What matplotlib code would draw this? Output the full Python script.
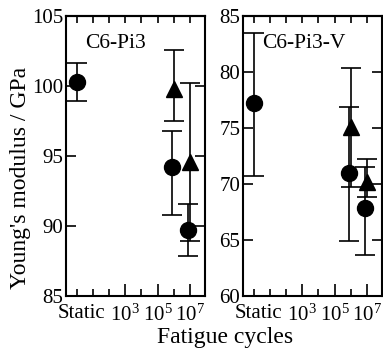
import numpy as np
import matplotlib
matplotlib.use('Agg')
import matplotlib.pyplot as plt
import matplotlib.transforms as mtransforms

plt.rcParams['font.family'] = 'Liberation Serif'
plt.rcParams['mathtext.fontset'] = 'custom'
plt.rcParams['mathtext.rm'] = 'Liberation Serif'
plt.rcParams['mathtext.it'] = 'Liberation Serif:italic'

# Datos
circ_x = [1, 8e5, 7.5e6]
tri_x = [1e6, 1e7]

# C6-Pi3
a_circ_y = [100.3, 94.2, 89.7]
a_circ_lo = [98.95, 90.8, 87.86]
a_circ_hi = [101.67, 96.8, 91.57]
a_tri_y = [99.8, 94.6]
a_tri_lo = [97.5, 88.95]
a_tri_hi = [102.57, 100.19]

# C6-Pi3-V
b_circ_y = [77.2, 71.0, 67.9]
b_circ_lo = [70.7, 64.95, 63.66]
b_circ_hi = [83.5, 76.9, 71.49]
b_tri_y = [75.1, 70.2]
b_tri_lo = [69.7, 68.87]
b_tri_hi = [80.4, 72.2]

panels = [
    ('C6-Pi3', (85, 105), [85, 90, 95, 100, 105],
     a_circ_y, a_circ_lo, a_circ_hi, a_tri_y, a_tri_lo, a_tri_hi),
    ('C6-Pi3-V', (60, 85), [60, 65, 70, 75, 80, 85],
     b_circ_y, b_circ_lo, b_circ_hi, b_tri_y, b_tri_lo, b_tri_hi),
]

fig = plt.figure(figsize=(3.83, 3.52), dpi=100)
lefts = [66 / 383, 243 / 383]
decades = [10.0 ** k for k in range(0, 8)]

for left, (name, ylim, yticks, cy, clo, chi, ty, tlo, thi) in zip(lefts, panels):
    ax = fig.add_axes([left, 56 / 352, 139 / 383, 280 / 352])
    cy = np.array(cy)
    ty = np.array(ty)
    ax.errorbar(tri_x, ty, yerr=[ty - np.array(tlo), np.array(thi) - ty],
                fmt='^', color='black', ms=11.5, capsize=7, elinewidth=1.2,
                capthick=1.2)
    ax.errorbar(circ_x, cy, yerr=[cy - np.array(clo), np.array(chi) - cy],
                fmt='o', color='black', ms=11.5, capsize=7, elinewidth=1.2,
                capthick=1.2)
    ax.set_xscale('log')
    ax.set_xlim(10 ** -0.66, 10 ** 7.93)
    ax.set_ylim(*ylim)
    ax.set_yticks(yticks)
    ax.set_xticks([1, 1e3, 1e5, 1e7], ['Static', '$10^3$', '$10^5$', '$10^7$'])
    ax.set_xticks([d for d in decades if d not in (1, 1e3, 1e5, 1e7)], minor=True)
    ax.xaxis.set_minor_formatter(plt.NullFormatter())
    ax.tick_params(axis='x', which='major', direction='in', length=9,
                   width=1.2, labelsize=15, pad=6)
    ax.tick_params(axis='x', which='minor', direction='in', length=5, width=1.2)
    ax.xaxis.get_major_ticks()[0].tick1line.set_markersize(5)
    # "Static" un poco a la derecha
    lab = ax.get_xticklabels()[0]
    lab.set_transform(lab.get_transform() +
                      mtransforms.ScaledTranslation(5 / 100, 0, fig.dpi_scale_trans))
    ax.tick_params(axis='y', direction='in', length=7, width=1.2,
                   right=True, labelsize=15, pad=2)
    for s in ax.spines.values():
        s.set_linewidth(1.5)
    top = ax.secondary_xaxis('top')
    top.set_xticks(decades)
    top.xaxis.set_minor_locator(plt.NullLocator())
    top.tick_params(direction='in', length=5, width=1.2, labeltop=False)
    top.spines['top'].set_linewidth(1.5)
    ax.text(0.14, 0.9, name, transform=ax.transAxes, fontsize=15.5,
            ha='left', va='center')
    if left < 0.5:
        ax.set_ylabel("Young's modulus / GPa", fontsize=17, labelpad=1)
        ax.yaxis.label.set_y(0.42)

fig.text(225 / 383, 14 / 352, 'Fatigue cycles', ha='center', va='center',
         fontsize=17)

fig.savefig('out.png', dpi=100)
